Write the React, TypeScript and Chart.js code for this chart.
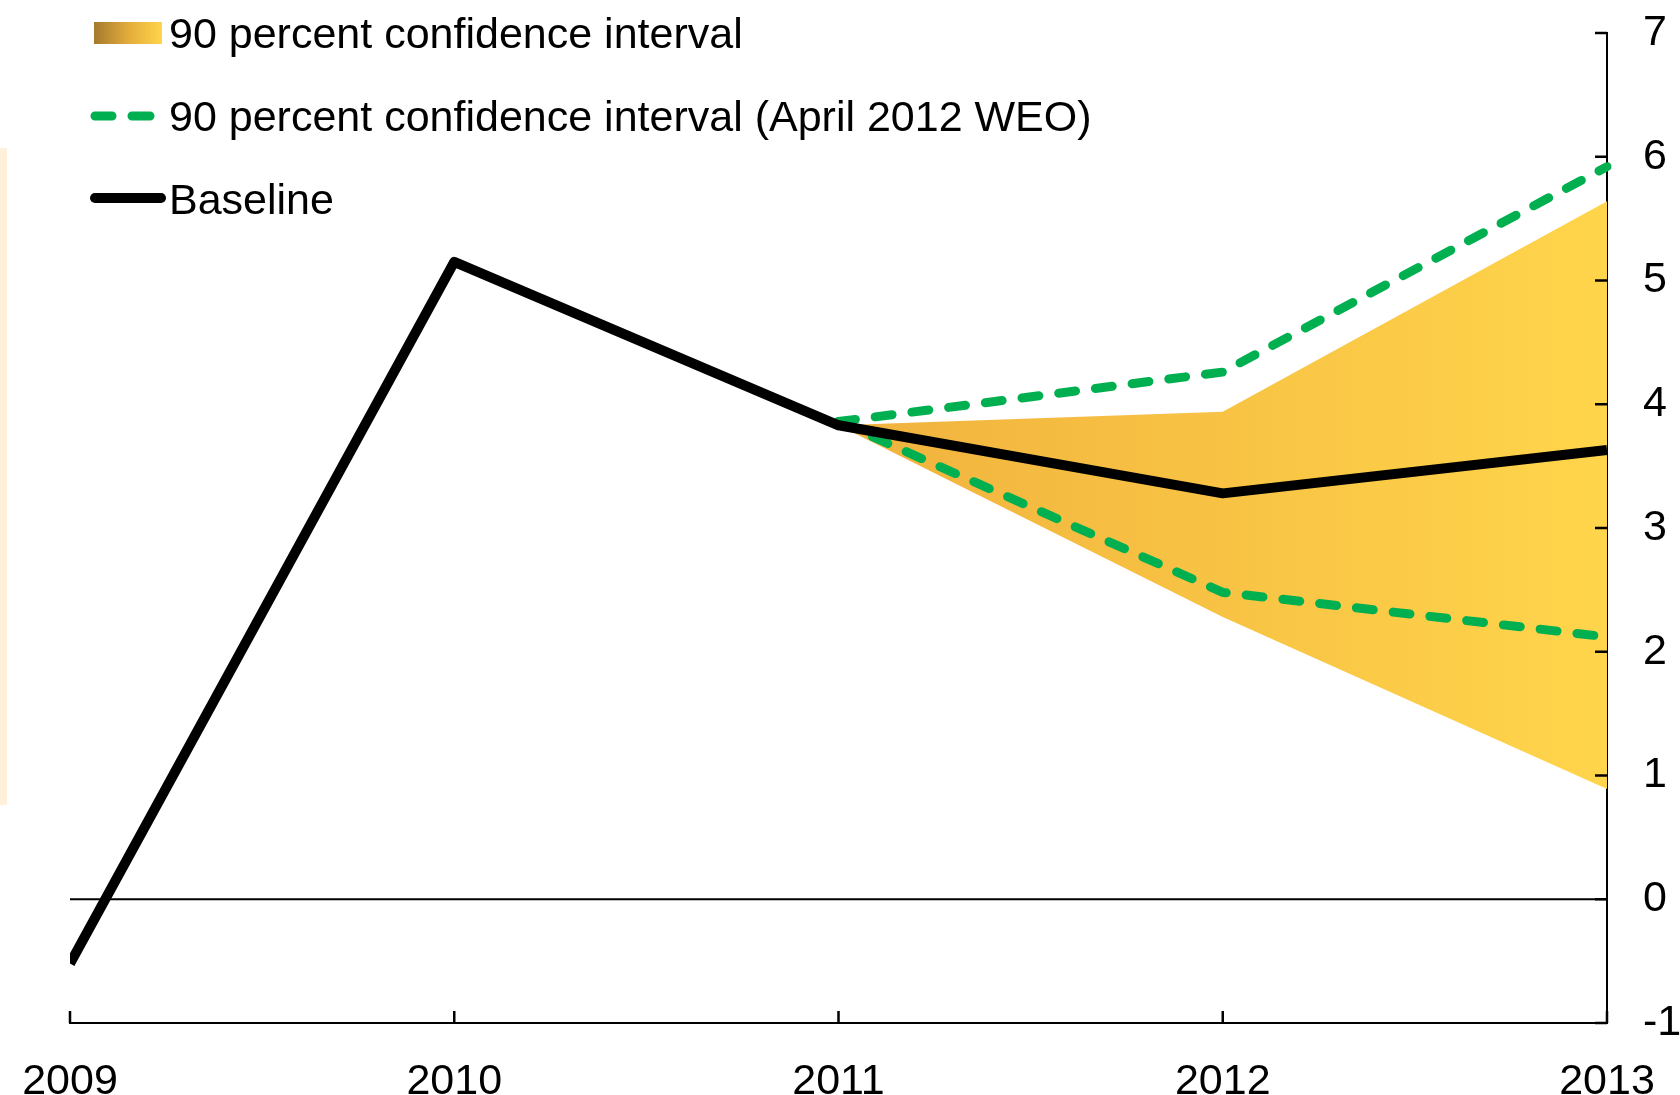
import React, { useEffect, useRef } from 'react';
import { Chart, registerables } from 'chart.js';

Chart.register(...registerables);

// ---- Data ----
const years = ['2009', '2010', '2011', '2012', '2013'];
const baseline = [-0.52, 5.15, 3.83, 3.28, 3.63];
const bandUpper = [null, null, 3.83, 3.94, 5.64];
const bandLower = [null, null, 3.83, 2.28, 0.89];
const weoUpper = [null, null, 3.86, 4.26, 5.92];
const weoLower = [null, null, 3.86, 2.48, 2.12];
const yTicks = [-1, 0, 1, 2, 3, 4, 5, 6, 7];
const labelBand = '90 percent confidence interval';
const labelWeo = '90 percent confidence interval (April 2012 WEO)';
const labelBaseline = 'Baseline';

const FONT = '"Liberation Sans", Arial, Helvetica, sans-serif';
const GREEN = '#00B050';

const decorPlugin = {
  id: 'decor',
  beforeDraw(chart: any) {
    const ctx = chart.ctx;
    ctx.save();
    ctx.fillStyle = '#ffffff';
    ctx.fillRect(0, 0, chart.width, chart.height);
    ctx.fillStyle = '#FFF0DC';
    ctx.fillRect(0, 148, 7, 657);
    ctx.restore();
  },
  beforeDatasetsDraw(chart: any) {
    const { ctx, chartArea, scales } = chart;
    const y0 = scales.y.getPixelForValue(0);
    ctx.save();
    ctx.strokeStyle = '#000';
    ctx.lineWidth = 2;
    ctx.beginPath();
    ctx.moveTo(chartArea.left, y0);
    ctx.lineTo(chartArea.right, y0);
    ctx.stroke();
    ctx.restore();
  },
  afterDatasetsDraw(chart: any) {
    const { ctx, chartArea, scales } = chart;
    ctx.save();
    ctx.strokeStyle = '#000';
    ctx.lineWidth = 2.5;
    ctx.beginPath();
    scales.y.ticks.forEach((t: any) => {
      const y = scales.y.getPixelForValue(t.value);
      ctx.moveTo(chartArea.right, y);
      ctx.lineTo(chartArea.right - 12, y);
    });
    scales.x.ticks.forEach((_t: any, i: number) => {
      const x = scales.x.getPixelForTick(i);
      ctx.moveTo(x, chartArea.bottom);
      ctx.lineTo(x, chartArea.bottom - 12);
    });
    ctx.stroke();
    ctx.restore();
  },
  afterDraw(chart: any) {
    const ctx = chart.ctx;
    const ds = chart.data.datasets;
    ctx.save();
    // row 1: gradient swatch
    const g = ctx.createLinearGradient(94, 0, 162, 0);
    g.addColorStop(0, '#A47A2C');
    g.addColorStop(0.5, '#E2AB3B');
    g.addColorStop(1, '#FFD54B');
    ctx.fillStyle = g;
    ctx.fillRect(94, 22, 68, 22);
    // row 2: dashed green
    ctx.strokeStyle = GREEN;
    ctx.lineWidth = 9;
    ctx.lineCap = 'round';
    ctx.beginPath();
    ctx.moveTo(95, 116);
    ctx.lineTo(112, 116);
    ctx.moveTo(132, 116);
    ctx.lineTo(150, 116);
    ctx.stroke();
    // row 3: black line
    ctx.strokeStyle = '#000';
    ctx.lineWidth = 10;
    ctx.beginPath();
    ctx.moveTo(95, 198);
    ctx.lineTo(161, 198);
    ctx.stroke();
    // texts
    ctx.fillStyle = '#000';
    ctx.font = '43px ' + FONT;
    ctx.textAlign = 'left';
    ctx.textBaseline = 'alphabetic';
    ctx.fillText(ds[3].label, 169, 48);
    ctx.fillText(ds[1].label, 169, 131);
    ctx.fillText(ds[0].label, 169, 214);
    ctx.restore();
  },
};

export default function App() {
  const ref = useRef<HTMLCanvasElement | null>(null);

  useEffect(() => {
    if (!ref.current) return;
    const bandFill = (c: any) => {
      const chart = c.chart;
      if (!chart.chartArea || !chart.scales.x) return '#F8C444';
      const x1 = chart.scales.x.getPixelForValue(2);
      const x2 = chart.scales.x.getPixelForValue(4);
      const g = chart.ctx.createLinearGradient(x1, 0, x2, 0);
      g.addColorStop(0, '#F0B23E');
      g.addColorStop(0.5, '#F8C344');
      g.addColorStop(1, '#FFD54B');
      return g;
    };
    const chart = new Chart(ref.current, {
      type: 'line',
      data: {
        labels: years,
        datasets: [
          {
            label: labelBaseline,
            data: baseline,
            borderColor: '#000',
            borderWidth: 10,
            pointRadius: 0,
            tension: 0,
            fill: false,
            order: 0,
            borderJoinStyle: 'round',
            clip: { left: 0, right: 8, top: 10, bottom: 10 },
          },
          {
            label: labelWeo,
            data: weoUpper,
            borderColor: GREEN,
            borderWidth: 9,
            borderDash: [17, 20],
            borderCapStyle: 'round',
            pointRadius: 0,
            tension: 0,
            fill: false,
            order: 1,
            clip: false,
          },
          {
            label: '',
            data: weoLower,
            borderColor: GREEN,
            borderWidth: 9,
            borderDash: [17, 20],
            borderCapStyle: 'round',
            pointRadius: 0,
            tension: 0,
            fill: false,
            order: 1,
            clip: false,
          },
          {
            label: labelBand,
            data: bandUpper,
            borderWidth: 0,
            borderColor: 'rgba(0,0,0,0)',
            backgroundColor: bandFill,
            pointRadius: 0,
            tension: 0,
            fill: '+1',
            order: 2,
          },
          {
            label: '',
            data: bandLower,
            borderWidth: 0,
            borderColor: 'rgba(0,0,0,0)',
            backgroundColor: bandFill,
            pointRadius: 0,
            tension: 0,
            fill: false,
            order: 2,
          },
        ],
      },
      options: {
        responsive: false,
        animation: false,
        devicePixelRatio: 1,
        layout: { padding: { left: 70, top: 33, right: 0, bottom: 0 } },
        plugins: {
          legend: { display: false },
          tooltip: { enabled: false },
          title: { display: false },
        },
        scales: {
          x: {
            type: 'category',
            offset: false,
            grid: { display: false },
            border: { display: true, color: '#000', width: 2 },
            ticks: {
              color: '#000',
              font: { family: FONT, size: 43 },
              padding: 25,
              autoSkip: false,
              maxRotation: 0,
              minRotation: 0,
            },
            afterFit: (s: any) => {
              s.height = 72;
              s.paddingLeft = 0;
              s.paddingRight = 0;
              s.paddingTop = 0;
              s.paddingBottom = 0;
            },
          },
          y: {
            type: 'linear',
            position: 'right',
            min: -1,
            max: 7,
            grid: { display: false },
            border: { display: true, color: '#000', width: 2 },
            afterBuildTicks: (s: any) => {
              s.ticks = yTicks.map((v) => ({ value: v }));
            },
            ticks: {
              color: '#000',
              font: { family: FONT, size: 43 },
              padding: 28,
            },
            afterFit: (s: any) => {
              s.width = 73;
              s.paddingLeft = 0;
              s.paddingRight = 0;
              s.paddingTop = 0;
              s.paddingBottom = 0;
            },
          },
        },
      },
      plugins: [decorPlugin],
    } as any);
    return () => chart.destroy();
  }, []);

  return (
    <div style={{ position: 'absolute', left: 0, top: 0, width: 1680, height: 1095 }}>
      <canvas ref={ref} width={1680} height={1095} style={{ display: 'block' }} />
    </div>
  );
}
